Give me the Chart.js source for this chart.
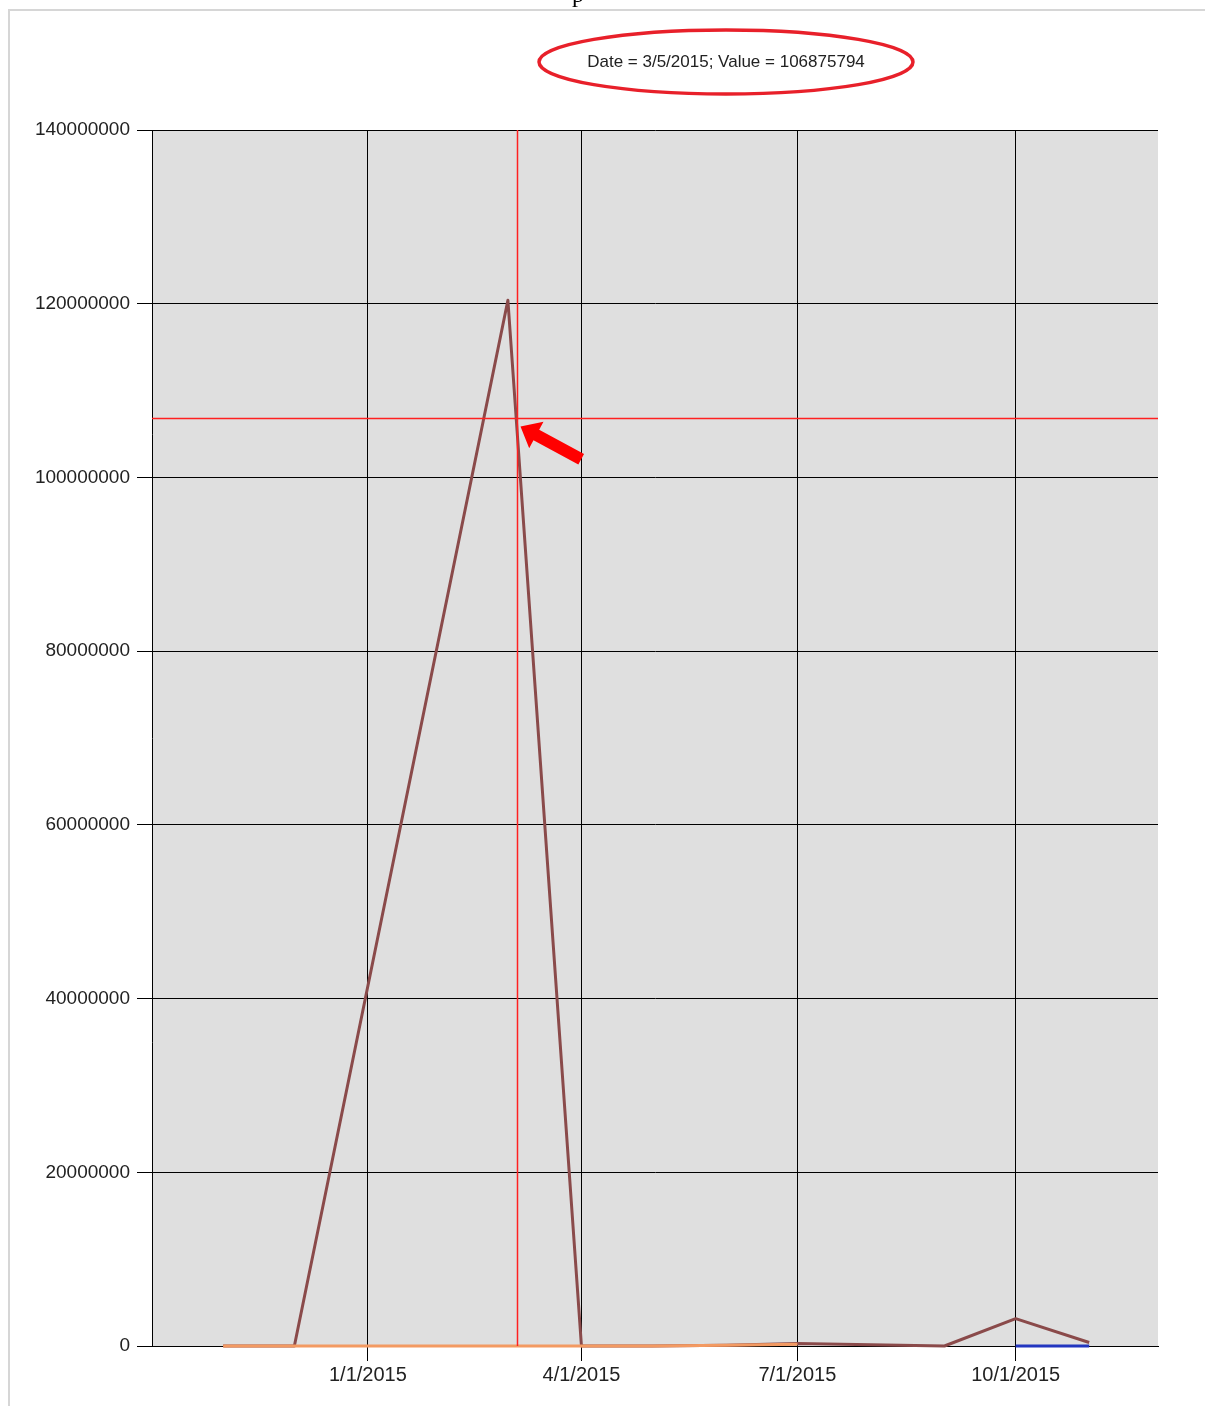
<!DOCTYPE html>
<html>
<head>
<meta charset="utf-8">
<title>Value over time</title>
<script src="https://cdn.jsdelivr.net/npm/chart.js@4/dist/chart.umd.min.js"></script>
<style>
  html, body { margin: 0; padding: 0; background: #fff; }
  #wrap { width: 1205px; height: 1406px; position: relative; }
</style>
</head>
<body>
<div id="wrap"><canvas id="valueChart" width="1205" height="1406"></canvas></div>
<script>
// Series data (dates are month starts, values in raw units)
const brownDates = ['2014-11-01', '2014-12-01', '2015-03-01', '2015-04-01', '2015-05-01', '2015-06-01',
                    '2015-07-01', '2015-08-01', '2015-09-01', '2015-10-01', '2015-11-01'];
const brownValues = [0, 0, 120400000, 0, 0, 100000, 300000, 150000, 0, 3150000, 400000];

const orangeDates = ['2014-11-01', '2014-12-01', '2015-01-01', '2015-02-01', '2015-03-01',
                     '2015-04-01', '2015-05-01', '2015-06-01', '2015-07-01'];
const orangeValues = [0, 0, 0, 0, 0, 0, 0, 100000, 200000];

const blueDates = ['2015-10-01', '2015-11-01'];
const blueValues = [0, 0];

// Axis setup
const xTickDates = ['2015-01-01', '2015-04-01', '2015-07-01', '2015-10-01'];
const xMinDate = '2014-10-02';
const xMaxDate = '2015-11-30';
const yTickStep = 20000000;
const yMax = 140000000;

// Cursor position shown in the callout
const cursorDate = '2015-03-05';
const cursorValue = 106875794;

function toTime(s) {
  const p = s.split('-').map(Number);
  return Date.UTC(p[0], p[1] - 1, p[2]);
}

function fmtDate(t) {
  const d = new Date(t);
  return (d.getUTCMonth() + 1) + '/' + d.getUTCDate() + '/' + d.getUTCFullYear();
}

function points(dates, values) {
  return dates.map((d, i) => ({ x: toTime(d), y: values[i] }));
}

// Gray plot background, outer frame, cursor lines, callout and arrow
const decorations = {
  id: 'decorations',
  beforeDraw(chart) {
    const { ctx, chartArea: a } = chart;
    ctx.save();
    ctx.fillStyle = '#dfdfdf';
    ctx.fillRect(a.left, a.top, a.right - a.left, a.bottom - a.top);

    // frame of the surrounding panel
    ctx.strokeStyle = '#d6d6d6';
    ctx.lineWidth = 2;
    ctx.beginPath();
    ctx.moveTo(1205, 10);
    ctx.lineTo(9, 10);
    ctx.lineTo(9, 1406);
    ctx.stroke();

    // cut-off heading glyph above the panel
    ctx.fillStyle = '#000';
    ctx.font = '24px "Liberation Serif"';
    ctx.textAlign = 'center';
    ctx.textBaseline = 'alphabetic';
    ctx.fillText('p', 578, 2);
    ctx.restore();
  },
  afterDatasetsDraw(chart) {
    const { ctx, chartArea: a, scales } = chart;
    const cx = Math.round(scales.x.getPixelForValue(toTime(cursorDate))) + 0.5;
    const cy = Math.round(scales.y.getPixelForValue(cursorValue)) + 0.5;
    ctx.save();
    ctx.strokeStyle = '#ff2020';
    ctx.lineWidth = 1.5;
    ctx.beginPath();
    ctx.moveTo(cx, a.top);
    ctx.lineTo(cx, a.bottom);
    ctx.moveTo(a.left, cy);
    ctx.lineTo(a.right, cy);
    ctx.stroke();

    // arrow pointing at the cursor crossing
    const tipX = cx + 3, tipY = cy + 8;
    const ang = Math.atan2(33, 61);
    ctx.translate(tipX, tipY);
    ctx.rotate(ang);
    ctx.fillStyle = '#ff0000';
    ctx.beginPath();
    ctx.moveTo(0, 0);
    ctx.lineTo(18, -15);
    ctx.lineTo(18, -6);
    ctx.lineTo(69, -6);
    ctx.lineTo(69, 6);
    ctx.lineTo(18, 6);
    ctx.lineTo(18, 15);
    ctx.closePath();
    ctx.fill();
    ctx.restore();

    // callout with the cursor readout
    ctx.save();
    ctx.strokeStyle = '#e8202a';
    ctx.lineWidth = 3.5;
    ctx.beginPath();
    ctx.ellipse(726, 62, 187, 32, 0, 0, Math.PI * 2);
    ctx.stroke();
    ctx.fillStyle = '#222';
    ctx.font = '17px "Liberation Sans"';
    ctx.textAlign = 'center';
    ctx.textBaseline = 'middle';
    ctx.fillText('Date = ' + fmtDate(toTime(cursorDate)) + '; Value = ' + cursorValue, 726, 62);
    ctx.restore();
  }
};

const config = {
  type: 'line',
  data: {
    datasets: [
      { data: points(blueDates, blueValues), borderColor: '#2236c0', borderWidth: 3, clip: false },
      { data: points(orangeDates, orangeValues), borderColor: '#f39a62', borderWidth: 3, clip: false },
      { data: points(brownDates, brownValues), borderColor: '#8a4a4a', borderWidth: 3, clip: false }
    ]
  },
  options: {
    responsive: false,
    animation: false,
    events: [],
    layout: { padding: { top: 130, right: 47, left: 0, bottom: 0 } },
    elements: {
      point: { radius: 0 },
      line: { tension: 0, borderJoinStyle: 'round', borderCapStyle: 'butt' }
    },
    plugins: { legend: { display: false }, tooltip: { enabled: false }, title: { display: false } },
    scales: {
      x: {
        type: 'linear',
        min: toTime(xMinDate),
        max: toTime(xMaxDate),
        afterBuildTicks(scale) {
          scale.ticks = xTickDates.map(d => ({ value: toTime(d) }));
        },
        afterFit(scale) { scale.height = 60; },
        ticks: {
          autoSkip: false,
          maxRotation: 0,
          padding: 2,
          color: '#222',
          font: { family: 'Liberation Sans', size: 20 },
          callback: v => fmtDate(v)
        },
        grid: { color: '#000', lineWidth: 1, tickLength: 15 },
        border: { color: '#000', width: 1 }
      },
      y: {
        min: 0,
        max: yMax,
        afterFit(scale) { scale.width = 152; },
        ticks: {
          stepSize: yTickStep,
          padding: 7,
          color: '#222',
          font: { family: 'Liberation Sans', size: 19 },
          callback: v => String(v)
        },
        grid: { color: '#000', lineWidth: 1, tickLength: 15 },
        border: { color: '#000', width: 1 }
      }
    }
  },
  plugins: [decorations]
};

const valueChart = new Chart(document.getElementById('valueChart'), config);
</script>
</body>
</html>
